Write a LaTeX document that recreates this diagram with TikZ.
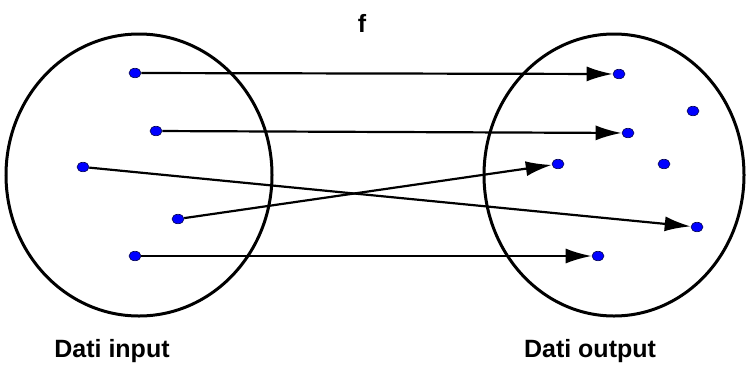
\documentclass[tikz,border=0pt]{standalone}
\usepackage{fontspec}
\setmainfont{Liberation Sans}
\usetikzlibrary{arrows.meta,shapes.geometric}
\begin{document}
\begin{tikzpicture}[x=1pt,y=-1pt,
  setbox/.style={draw=black,line width=3pt,ellipse},
  dot/.style={ellipse,fill=blue,draw=black!70!blue,line width=0.6pt,minimum width=12pt,minimum height=9.5pt,inner sep=0pt},
  mapto/.style={line width=2.2pt,-{Latex[length=26pt,width=15pt]}},
  lbl/.style={font=\bfseries\fontsize{25}{29}\selectfont,inner sep=0pt,anchor=base}]
\useasboundingbox (0,0) rectangle (747,365);
\draw[setbox] (139,175) ellipse [x radius=133, y radius=141];
\draw[setbox] (614,175) ellipse [x radius=130, y radius=141];
% input dots
\node[dot] (i1) at (135,73) {};
\node[dot] (i2) at (156,131) {};
\node[dot] (i3) at (83,167) {};
\node[dot] (i4) at (178,219) {};
\node[dot] (i5) at (135,256) {};
% output dots
\node[dot] (o1) at (619,74) {};
\node[dot] (o2) at (693,111) {};
\node[dot] (o3) at (628,133) {};
\node[dot] (o4) at (558,164) {};
\node[dot] (o5) at (664,164) {};
\node[dot] (o6) at (697,227) {};
\node[dot] (o7) at (598,256) {};
% arrows
\draw[mapto] (i1) -- (o1);
\draw[mapto] (i2) -- (o3);
\draw[mapto] (i3) -- (o6);
\draw[mapto] (i4) -- (o4);
\draw[mapto] (i5) -- (o7);
% labels
\node[lbl] (f) at (362,32) {f};
\node[lbl] (din) at (112,357) {Dati input};
\node[lbl] (dout) at (590,357) {Dati output};
\end{tikzpicture}
\end{document}
